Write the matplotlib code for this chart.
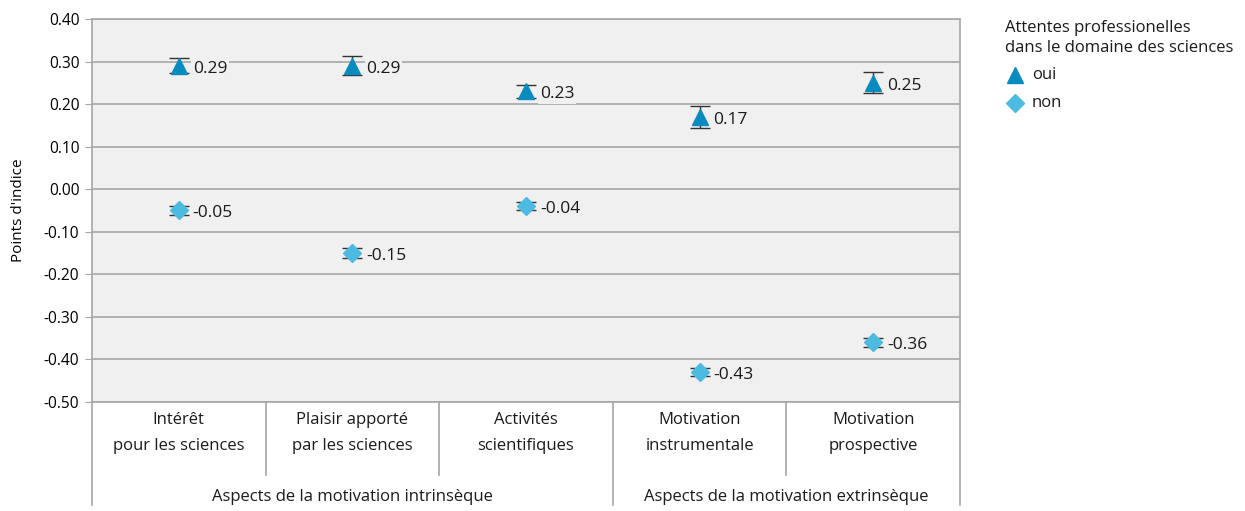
import matplotlib
matplotlib.use("Agg")
import matplotlib.pyplot as plt
from matplotlib.lines import Line2D

categories = ["Intérêt\npour les sciences", "Plaisir apporté\npar les sciences",
              "Activités\nscientifiques", "Motivation\ninstrumentale", "Motivation\nprospective"]
groups = ["Aspects de la motivation intrinsèque", "Aspects de la motivation extrinsèque"]
group_sizes = [3, 2]
oui = [0.29, 0.29, 0.23, 0.17, 0.25]
oui_err = [0.018, 0.022, 0.015, 0.026, 0.025]
non = [-0.05, -0.15, -0.04, -0.43, -0.36]
non_err = [0.010, 0.012, 0.010, 0.010, 0.010]
yticks = [0.40, 0.30, 0.20, 0.10, 0.00, -0.10, -0.20, -0.30, -0.40, -0.50]

plt.rcParams['font.family'] = ['Open Sans', 'DejaVu Sans']
c_oui = '#0a8bbf'
c_non = '#4dbae2'

fig = plt.figure(figsize=(12.45, 5.11), dpi=100)
ax = fig.add_axes([92/1245, 1-402/511, (960-92)/1245, (402-19)/511])
ax.set_facecolor('#f0f0f0')
n = len(categories)
x = list(range(n))
ax.set_xlim(-0.5, n-0.5)
ax.set_ylim(-0.50, 0.40)
ax.set_yticks(yticks)
ax.set_yticklabels([f"{v:.2f}" for v in yticks], fontsize=11.2)
ax.yaxis.grid(True, color='#a6a6a6', linewidth=1.2)
ax.set_axisbelow(True)
ax.set_xticks([])
for s in ax.spines.values():
    s.set_color('#a6a6a6')
    s.set_linewidth(1.2)
ax.tick_params(axis='y', length=5, color='#a6a6a6', pad=4)
ax.set_ylabel("Points d'indice", fontsize=11, labelpad=13)

ax.errorbar(x, oui, yerr=oui_err, fmt='none', ecolor='#333333', elinewidth=1, capsize=7, zorder=3)
ax.errorbar(x, non, yerr=non_err, fmt='none', ecolor='#333333', elinewidth=1, capsize=7, zorder=3)
ax.plot(x, oui, linestyle='none', marker='^', markersize=11, color=c_oui, zorder=4)
ax.plot(x, non, linestyle='none', marker='D', markersize=9, color=c_non, zorder=4)
for xi, v in zip(x, oui):
    ax.annotate(f"{v:.2f}", (xi, v), xytext=(10, -2), textcoords='offset points',
                ha='left', va='center', fontsize=12.5, color='#1a1a1a',
                bbox=dict(boxstyle='square,pad=0.1', fc='#f0f0f0', ec='none'), zorder=5)
for xi, v in zip(x, non):
    ax.annotate(f"{v:.2f}", (xi, v), xytext=(10, -2), textcoords='offset points',
                ha='left', va='center', fontsize=12.5, color='#1a1a1a',
                bbox=dict(boxstyle='square,pad=0.1', fc='#f0f0f0', ec='none'), zorder=5)

# category labels and separators below the axes
tr = ax.get_xaxis_transform()
for xi, lab in zip(x, categories):
    ax.text(xi, -(433-402)/383, lab, transform=tr, ha='center', va='center', fontsize=12,
            color='#1a1a1a', linespacing=1.85)
sep_color = '#a6a6a6'
bounds = [-0.5]
acc = -0.5
for g in group_sizes:
    acc += g
    bounds.append(acc)
for i in range(n+1):
    xb = -0.5 + i
    full = xb in bounds
    y0 = -(505-402)/383 if full else -(475-402)/383
    ax.add_line(Line2D([xb, xb], [0, y0], transform=tr, color=sep_color, lw=1.2, clip_on=False))
start = -0.5
for g, gl in zip(group_sizes, groups):
    mid = start + g/2
    ax.text(mid, -(497-402)/383, gl, transform=tr, ha='center', va='center', fontsize=12,
            color='#1a1a1a')
    start += g

# legend
fig.text(1005/1245, 1-28/511, "Attentes professionelles", fontsize=12, va='center', ha='left', color='#1a1a1a')
fig.text(1005/1245, 1-48/511, "dans le domaine des sciences", fontsize=12, va='center', ha='left', color='#1a1a1a')
fig.lines.append(Line2D([1015/1245], [1-75/511], marker='^', markersize=11, color=c_oui,
                        linestyle='none', transform=fig.transFigure))
fig.lines.append(Line2D([1015/1245], [1-103/511], marker='D', markersize=9, color=c_non,
                        linestyle='none', transform=fig.transFigure))
fig.text(1032/1245, 1-75/511, "oui", fontsize=12, va='center', ha='left', color='#1a1a1a')
fig.text(1032/1245, 1-103/511, "non", fontsize=12, va='center', ha='left', color='#1a1a1a')

fig.savefig("out.png", dpi=100)
